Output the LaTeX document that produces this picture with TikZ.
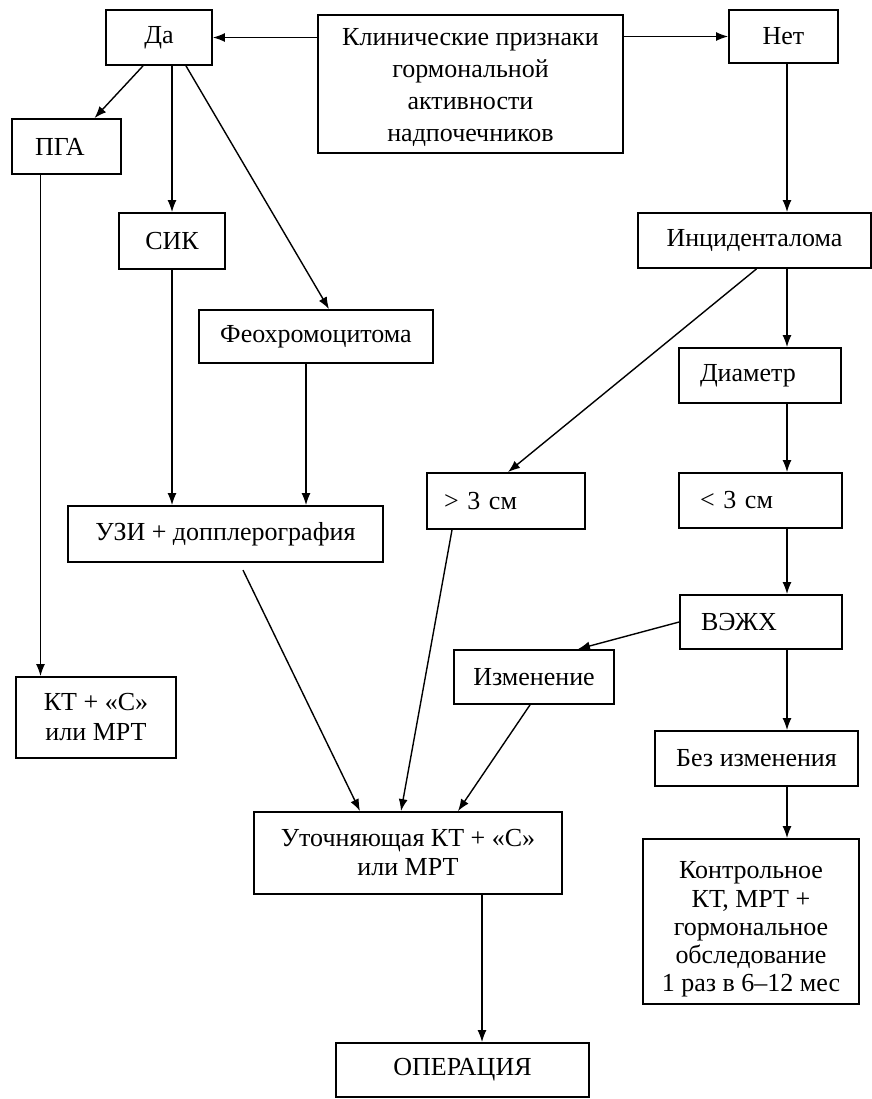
\documentclass[tikz,border=0pt]{standalone}
\usepackage{fontspec}
\setmainfont{Liberation Serif}
\usetikzlibrary{arrows.meta,calc}
\begin{document}
\begin{tikzpicture}[x=0.5pt,y=-0.5pt,
  box/.style={draw, line width=0.9pt, inner sep=2pt, align=center,
    font=\fontsize{13}{14.5}\selectfont},
  lbox/.style={box, align=left},
  arr/.style={draw, line width=0.7pt, -{Latex[length=6pt,width=4.5pt]}}]
\useasboundingbox (0,0) rectangle (872,1099);
\fill[white] (0,0) rectangle (872,1099);

\node[box, minimum width=53pt, minimum height=27.5pt] (da) at (159,37.5) {Да};
\node[box, minimum width=152.5pt, minimum height=69pt, font=\fontsize{13}{16}\selectfont] (clin) at (470.5,84)
  {\rule{0pt}{12.5pt}Клинические признаки\\гормональной\\активности\\надпочечников};
\node[box, minimum width=54.5pt, minimum height=26.5pt] (net) at (783.5,36.5) {Нет};
\node[lbox, inner xsep=11.5pt, text width=31.5pt, minimum height=27.5pt] (pga) at (66.5,146.5) {ПГА};
\node[box, minimum width=53pt, minimum height=28pt] (sik) at (172,241) {СИК};
\node[box, minimum width=117pt, minimum height=26.5pt] (feo) at (316,336.5) {Феохромоцитома};
\node[box, minimum width=116.5pt, minimum height=27.5pt] (inc) at (754.5,240.5) {Инциденталома};
\node[lbox, inner xsep=10.5pt, text width=60pt, minimum height=27.5pt] (dia) at (760,375.5) {Диаметр};
\node[lbox, inner xsep=8.5pt, text width=62pt, minimum height=28pt] (gt3) at (506,501) {> 3 см};
\node[lbox, inner xsep=10.5pt, text width=60.5pt, minimum height=27.5pt] (lt3) at (760.5,500.5) {< 3 см};
\node[box, minimum width=157.5pt, minimum height=28pt] (uzi) at (225.5,534) {УЗИ + допплерография};
\node[lbox, inner xsep=10.5pt, text width=60pt, minimum height=27pt] (vezh) at (761,622) {ВЭЖХ};
\node[box, minimum width=80pt, minimum height=27pt] (izm) at (534,677) {Изменение};
\node[box, minimum width=80pt, minimum height=40.5pt, font=\fontsize{13}{15}\selectfont] (kts) at (96,717.5) {КТ + «С»\\или МРТ};
\node[box, minimum width=101.5pt, minimum height=27.5pt] (bez) at (756.5,758.5) {Без изменения};
\node[box, minimum width=154pt, minimum height=41pt] (utoch) at (408,853) {Уточняющая КТ + «С»\\или МРТ};
\node[box, minimum width=108pt, minimum height=82.5pt, font=\fontsize{13}{14.1}\selectfont] (kontr) at (751,921.5)
  {\rule{0pt}{16.5pt}Контрольное\\КТ, МРТ +\\гормональное\\обследование\\1 раз в 6–12 мес};
\node[box, minimum width=126.5pt, minimum height=27pt] (oper) at (462.5,1070) {ОПЕРАЦИЯ};

\coordinate (col) at (787,0);

\draw[arr] (clin.west |- da) -- (da.east);
\draw[arr] (clin.east |- net) -- (net.west);
\draw[arr] ($(da.south)+(-8pt,0)$) -- ($(pga.north)+(14pt,0)$);
\draw[arr] (da.south -| sik) -- (sik.north);
\draw[arr] ($(da.south)+(13.5pt,0)$) -- ($(feo.north)+(6.5pt,0)$);
\draw[arr] ($(pga.south)+(-13pt,0)$) coordinate (p1) -- (p1 |- kts.north);
\draw[arr] (sik.south) -- (sik.south |- uzi.north);
\draw[arr] ($(feo.south)+(-5pt,0)$) coordinate (p2) -- (p2 |- uzi.north);
\draw[arr] (col |- net.south) -- (col |- inc.north);
\draw[arr] (col |- inc.south) -- (col |- dia.north);
\draw[arr] ($(inc.south)+(1pt,0)$) -- ($(gt3.north)+(1pt,0)$);
\draw[arr] (col |- dia.south) -- (col |- lt3.north);
\draw[arr] (col |- lt3.south) -- (col |- vezh.north);
\draw[arr] (vezh.west) -- ($(izm.north)+(22pt,0)$);
\draw[arr] (col |- vezh.south) -- (col |- bez.north);
\draw[arr] (col |- bez.south) -- (col |- kontr.north);
\draw[arr, shorten <=4pt] ($(uzi.south)+(7pt,0)$) -- ($(utoch.north)+(-24pt,0)$);
\draw[arr] ($(gt3.south)+(-27pt,0)$) -- ($(utoch.north)+(-3.5pt,0)$);
\draw[arr] ($(izm.south)+(-2pt,0)$) -- ($(utoch.north)+(25pt,0)$);
\draw[arr] ($(utoch.south)+(37pt,0)$) coordinate (p3) -- (p3 |- oper.north);
\end{tikzpicture}
\end{document}
